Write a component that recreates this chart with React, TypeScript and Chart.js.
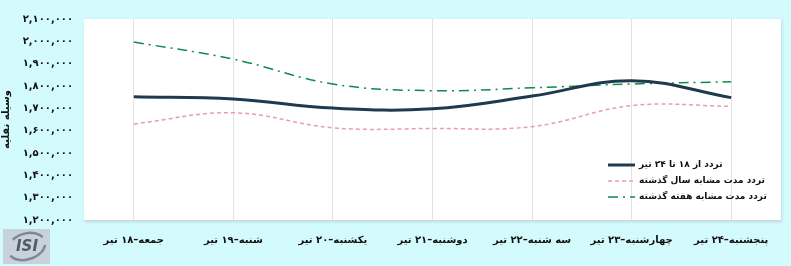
import React, { useEffect, useRef } from "react";
import { Chart, registerables } from "chart.js";

Chart.register(...registerables);

const categories = [
  "جمعه–۱۸ تیر",
  "شنبه–۱۹ تیر",
  "یکشنبه–۲۰ تیر",
  "دوشنبه–۲۱ تیر",
  "سه شنبه–۲۲ تیر",
  "چهارشنبه–۲۳ تیر",
  "پنجشنبه–۲۴ تیر",
];
const currentWeek = [1752000, 1742000, 1701000, 1698000, 1755000, 1824000, 1748000];
const lastYear = [1630000, 1680000, 1613000, 1610000, 1618000, 1712000, 1709000];
const lastWeek = [1997000, 1920000, 1809000, 1779000, 1792000, 1809000, 1819000];
const seriesNames = [
  "تردد از ۱۸ تا ۲۴ تیر",
  "تردد مدت مشابه سال گذشته",
  "تردد مدت مشابه هفته گذشته",
];
const yAxisTitle = "وسیله نقلیه";

const toFa = (s: string) => s.replace(/[0-9]/g, (d) => "۰۱۲۳۴۵۶۷۸۹"[+d]);
const FONT = "'DejaVu Sans', sans-serif";

const bgPlugin = {
  id: "bgPlugin",
  beforeDraw(chart: any) {
    const { ctx, chartArea } = chart;
    ctx.save();
    ctx.fillStyle = "#d3fbfd";
    ctx.fillRect(0, 0, chart.width, chart.height);
    ctx.shadowColor = "rgba(0,0,0,0.12)";
    ctx.shadowBlur = 3;
    ctx.shadowOffsetX = 1;
    ctx.shadowOffsetY = 1;
    ctx.fillStyle = "#ffffff";
    ctx.fillRect(chartArea.left, chartArea.top, chartArea.right - chartArea.left, chartArea.bottom - chartArea.top + 1);
    ctx.restore();
  },
  afterDraw(chart: any) {
    const { ctx } = chart;
    ctx.save();
    const styles = [
      { color: "#1f3a4f", width: 3, dash: [] as number[] },
      { color: "#e99ab6", width: 1.5, dash: [4, 3] },
      { color: "#108a4a", width: 1.5, dash: [10, 5, 2, 5] },
    ];
    const ys = [165, 181, 197];
    ctx.font = `bold 9px ${FONT}`;
    ctx.textBaseline = "middle";
    ctx.textAlign = "left";
    seriesNames.forEach((name, i) => {
      const s = styles[i];
      ctx.strokeStyle = s.color;
      ctx.lineWidth = s.width;
      ctx.setLineDash(s.dash);
      ctx.beginPath();
      ctx.moveTo(608, ys[i]);
      ctx.lineTo(635, ys[i]);
      ctx.stroke();
      ctx.setLineDash([]);
      ctx.fillStyle = "#111111";
      ctx.fillText(name, 639, ys[i]);
    });
    // logo box
    ctx.fillStyle = "#c7d2db";
    ctx.fillRect(3, 229, 47, 35);
    ctx.strokeStyle = "#7d8a96";
    ctx.lineWidth = 2.5;
    ctx.beginPath();
    ctx.ellipse(26.5, 246.5, 19, 13, -0.3, 0.3, Math.PI * 0.9);
    ctx.stroke();
    ctx.beginPath();
    ctx.ellipse(26.5, 246.5, 19, 13, -0.3, Math.PI * 1.3, Math.PI * 1.9);
    ctx.stroke();
    ctx.fillStyle = "#4f5d6b";
    ctx.font = `italic bold 15px ${FONT}`;
    ctx.textAlign = "center";
    ctx.fillText("ISI", 27, 247);
    ctx.restore();
  },
};

export default function App() {
  const ref = useRef<HTMLCanvasElement | null>(null);
  useEffect(() => {
    document.body.style.margin = "0";
    const chart = new Chart(ref.current!, {
      type: "line",
      data: {
        labels: categories,
        datasets: [
          {
            label: seriesNames[0],
            data: currentWeek,
            borderColor: "#1f3a4f",
            borderWidth: 3,
            pointRadius: 0,
            tension: 0.4,
            fill: false,
          },
          {
            label: seriesNames[1],
            data: lastYear,
            borderColor: "#e99ab6",
            borderWidth: 1.5,
            borderDash: [4, 3],
            pointRadius: 0,
            tension: 0.4,
            fill: false,
          },
          {
            label: seriesNames[2],
            data: lastWeek,
            borderColor: "#108a4a",
            borderWidth: 1.5,
            borderDash: [10, 5, 2, 5],
            pointRadius: 0,
            tension: 0.4,
            fill: false,
          },
        ],
      },
      options: {
        animation: false,
        responsive: false,
        layout: { padding: { top: 19, right: 10, left: 0, bottom: 0 } },
        plugins: { legend: { display: false }, tooltip: { enabled: false } },
        scales: {
          x: {
            offset: true,
            grid: { offset: false, color: "#e3e3e3", drawTicks: false },
            border: { color: "#d5d5d5" },
            ticks: {
              color: "#111111",
              font: { family: FONT, size: 10, weight: "bold" },
              padding: 14,
              maxRotation: 0,
              autoSkip: false,
            },
            afterFit(scale: any) {
              scale.height = 46;
            },
          },
          y: {
            min: 1200000,
            max: 2100000,
            grid: { display: false, drawTicks: false },
            border: { display: false },
            ticks: {
              stepSize: 100000,
              color: "#111111",
              font: { family: FONT, size: 10, weight: "bold" },
              padding: 11,
              callback: (v: any) => toFa(Number(v).toLocaleString("en-US")),
            },
            title: {
              display: true,
              text: yAxisTitle,
              color: "#111111",
              font: { family: FONT, size: 10, weight: "bold" },
              padding: 0,
            },
            afterFit(scale: any) {
              scale.width = 84;
            },
          },
        },
      },
      plugins: [bgPlugin],
    } as any);
    return () => chart.destroy();
  }, []);
  return (
    <div style={{ width: 791, height: 266, background: "#d3fbfd" }}>
      <canvas ref={ref} width={791} height={266} style={{ display: "block" }} />
    </div>
  );
}
